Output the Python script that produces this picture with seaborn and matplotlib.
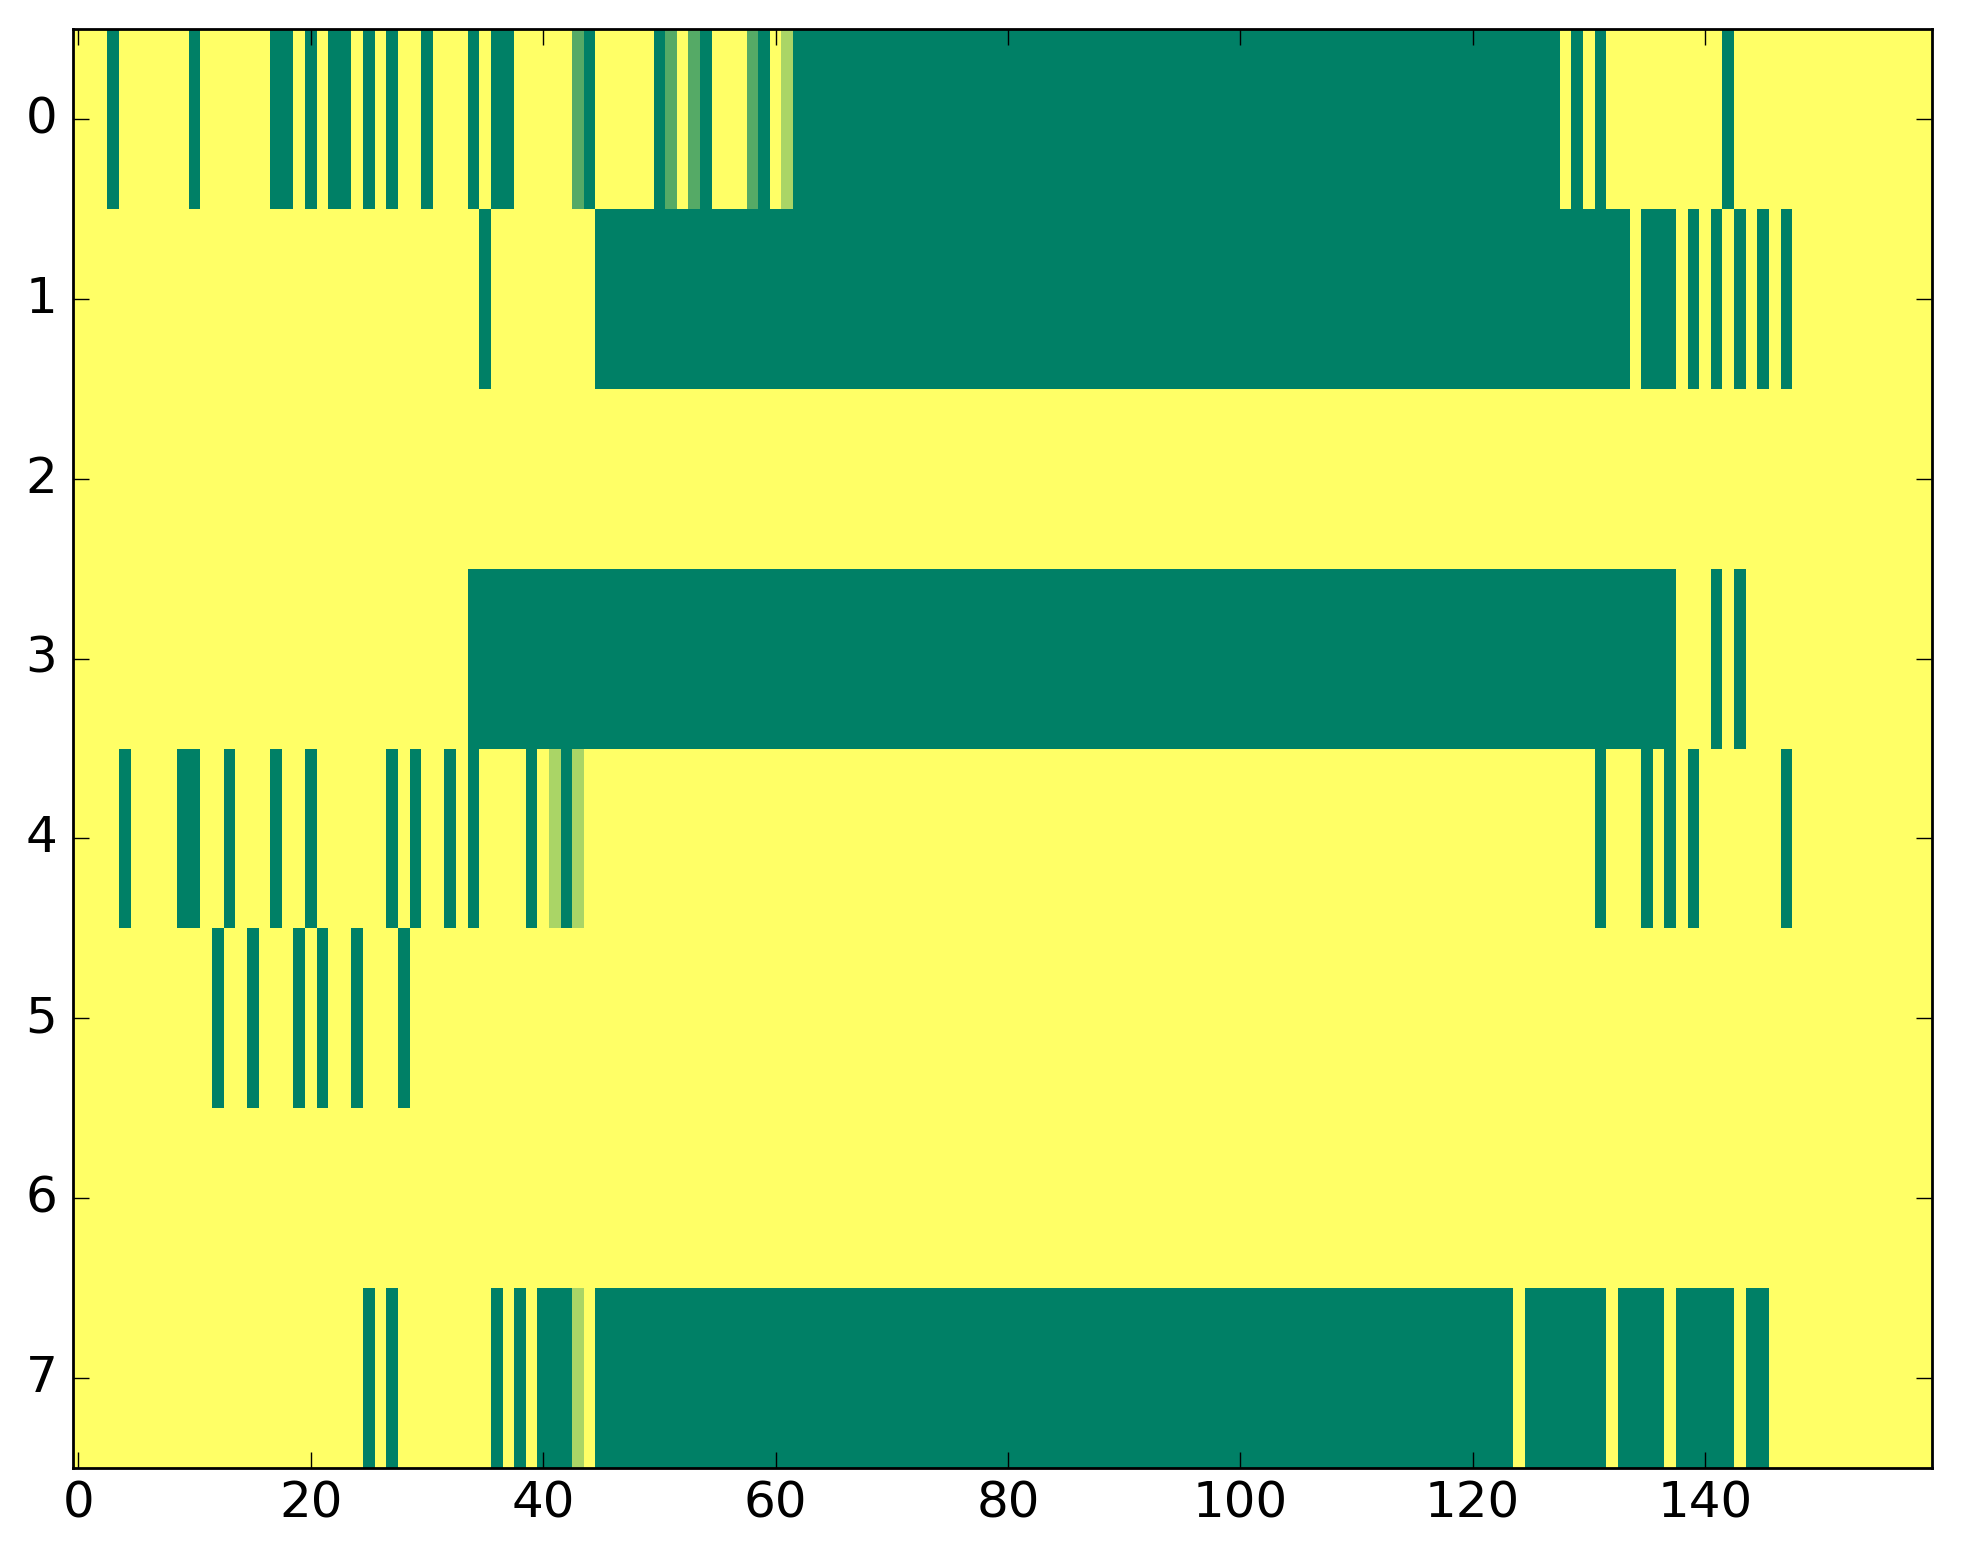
import numpy as np
import matplotlib
matplotlib.use("Agg")
import matplotlib.pyplot as plt
import seaborn as sns

# each row is run-length encoded as (level, count); level 0 = yellow ... 3 = dark green
row_0 = [(0, 3), (3, 1), (0, 6), (3, 1), (0, 6), (3, 2), (0, 1), (3, 1), (0, 1), (3, 2),
         (0, 1), (3, 1), (0, 1), (3, 1), (0, 2), (3, 1), (0, 3), (3, 1), (0, 1), (3, 2),
         (0, 5), (2, 1), (3, 1), (0, 5), (3, 1), (2, 1), (0, 1), (2, 1), (3, 1), (0, 3),
         (2, 1), (3, 1), (0, 1), (1, 1), (3, 66), (0, 1), (3, 1), (0, 1), (3, 1), (0, 10),
         (3, 1), (0, 17)]
row_1 = [(0, 35), (3, 1), (0, 9), (3, 89), (0, 1), (3, 3), (0, 1), (3, 1), (0, 1), (3, 1),
         (0, 1), (3, 1), (0, 1), (3, 1), (0, 1), (3, 1), (0, 12)]
row_2 = [(0, 160)]
row_3 = [(0, 34), (3, 104), (0, 3), (3, 1), (0, 1), (3, 1), (0, 16)]
row_4 = [(0, 4), (3, 1), (0, 4), (3, 2), (0, 2), (3, 1), (0, 3), (3, 1), (0, 2), (3, 1),
         (0, 6), (3, 1), (0, 1), (3, 1), (0, 2), (3, 1), (0, 1), (3, 1), (0, 4), (3, 1),
         (0, 1), (1, 1), (3, 1), (1, 1), (0, 87), (3, 1), (0, 3), (3, 1), (0, 1), (3, 1),
         (0, 1), (3, 1), (0, 7), (3, 1), (0, 12)]
row_5 = [(0, 12), (3, 1), (0, 2), (3, 1), (0, 3), (3, 1), (0, 1), (3, 1), (0, 2), (3, 1),
         (0, 3), (3, 1), (0, 131)]
row_6 = [(0, 160)]
row_7 = [(0, 25), (3, 1), (0, 1), (3, 1), (0, 8), (3, 1), (0, 1), (3, 1), (0, 1), (3, 3),
         (1, 1), (0, 1), (3, 79), (0, 1), (3, 7), (0, 1), (3, 4), (0, 1), (3, 5), (0, 1),
         (3, 2), (0, 14)]

rows = [row_0, row_1, row_2, row_3, row_4, row_5, row_6, row_7]
x_ticks = [0, 20, 40, 60, 80, 100, 120, 140]
y_ticks = [0, 1, 2, 3, 4, 5, 6, 7]


def expand(runs):
    vals = []
    for level, n in runs:
        vals += [level / 3.0] * n
    return vals


grid = np.array([expand(r) for r in rows])

fig = plt.figure(figsize=(19.63, 15.64), dpi=100)
ax = fig.add_axes([0.037, 0.0614, 0.947, 0.920])
sns.heatmap(grid, cmap="summer_r", vmin=0, vmax=1, cbar=False, ax=ax)

ax.set_xticks([t + 0.5 for t in x_ticks])
ax.set_xticklabels([str(t) for t in x_ticks], rotation=0)
ax.set_yticks([t + 0.5 for t in y_ticks])
ax.set_yticklabels([str(t) for t in y_ticks], rotation=0)

for side in ["top", "bottom", "left", "right"]:
    ax.spines[side].set_visible(True)
    ax.spines[side].set_linewidth(2.0)
    ax.spines[side].set_color("black")

ax.tick_params(axis="both", which="major", direction="in", length=11.5, width=1.0,
               top=True, right=True, labelsize=36, color="black")
ax.tick_params(axis="x", pad=8)
ax.tick_params(axis="y", pad=11)

fig.savefig("out.png", dpi=100)
